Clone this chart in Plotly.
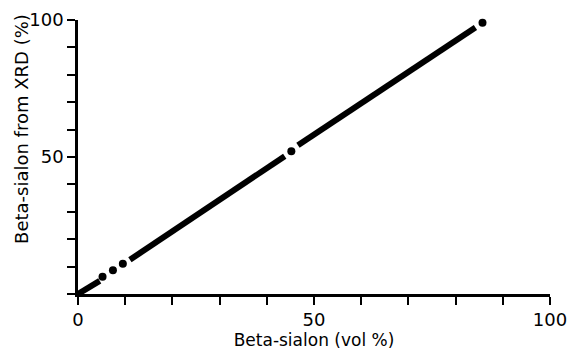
import plotly.graph_objects as go

# Continuous segments of the thick line (start, end)
seg_x = [[0, 4.6], [11.0, 43.8], [46.6, 84.2]]
seg_y = [[0, 4.8], [12.5, 50.3], [54.3, 97.3]]
# Isolated dots
dot_x = [5.2, 7.4, 9.5, 45.2, 85.7]
dot_y = [6.3, 8.7, 11.0, 52.1, 99.0]

x_ticks = [0, 50, 100]
x_ticktext = ["0", "50", "100"]
y_ticks = [50, 100]
y_ticktext = ["50", "100"]

fig = go.Figure()
for sx, sy in zip(seg_x, seg_y):
    fig.add_trace(go.Scatter(x=sx, y=sy, mode="lines",
                             line=dict(color="black", width=6),
                             showlegend=False, cliponaxis=False))
fig.add_trace(go.Scatter(x=dot_x, y=dot_y, mode="markers",
                         marker=dict(color="black", size=8),
                         showlegend=False, cliponaxis=False))

font = dict(family="DejaVu Sans", color="black")
fig.update_layout(
    width=569, height=351,
    margin=dict(l=78, r=19, t=20, b=57),
    plot_bgcolor="white", paper_bgcolor="white",
    font=dict(family="DejaVu Sans", size=15, color="black"),
)
fig.update_xaxes(
    range=[0, 100], showgrid=False, zeroline=False, automargin=False,
    showline=True, linecolor="black", linewidth=2.5,
    tickmode="array", tickvals=x_ticks, ticktext=x_ticktext,
    ticks="outside", ticklen=8, tickwidth=1.5, tickcolor="black",
    minor=dict(dtick=10, ticks="outside", ticklen=8, tickwidth=1.5, tickcolor="black", showgrid=False),
    tickfont=dict(size=18, **font),
    title=dict(text="Beta-sialon (vol %)", font=dict(size=17, **font), standoff=4),
)
fig.update_yaxes(
    range=[0, 100], showgrid=False, zeroline=False, automargin=False,
    showline=True, linecolor="black", linewidth=2.5,
    tickmode="array", tickvals=y_ticks, ticktext=y_ticktext,
    ticks="outside", ticklen=8, tickwidth=1.5, tickcolor="black",
    minor=dict(dtick=10, ticks="outside", ticklen=8, tickwidth=1.5, tickcolor="black", showgrid=False),
    tickfont=dict(size=18, **font),
)
fig.add_annotation(
    text="Beta-sialon from XRD (%)", textangle=-90,
    xref="paper", yref="paper", x=-0.121, y=0.602,
    xanchor="center", yanchor="middle", showarrow=False,
    font=dict(size=18, **font),
)
fig.write_html("out.html")
